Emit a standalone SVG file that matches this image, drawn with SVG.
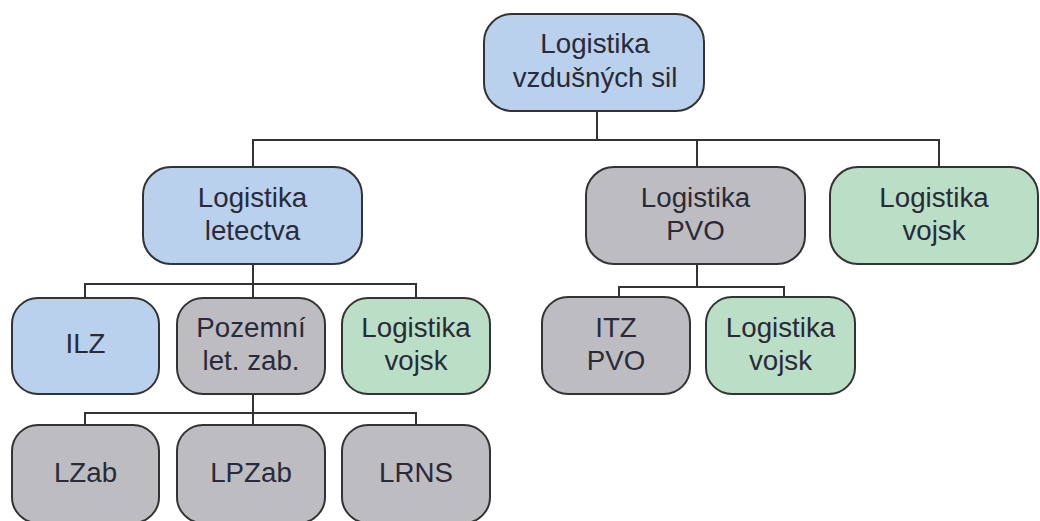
<svg xmlns="http://www.w3.org/2000/svg" width="1040" height="521" viewBox="0 0 1040 521">
<style>
.box{stroke:#333;stroke-width:2}
.blue{fill:#b9d1ed}
.grey{fill:#bdbdc1}
.green{fill:#badfc6}
text{font-family:"Liberation Sans",Arial,sans-serif;font-size:27.7px;fill:#2a2a38;text-anchor:middle}
.conn{stroke:#333;stroke-width:2;fill:none}
</style>
<rect width="1040" height="521" fill="#fff"/>
<g id="connectors" class="conn">
<path d="M597 111V140M253 167V140H939V167M697 140V167"/>
<path d="M253 264V284M85 298V284H416V298M253 284V298"/>
<path d="M253 394V413M85 425V413H416V425M253 413V425"/>
<path d="M697 264V287M619 297V287H784V297"/>
</g>
<g id="n-top"><rect class="box blue" x="484" y="14" width="220" height="97" rx="28"/><text x="595" y="53">Logistika</text><text x="595" y="87">vzdušných sil</text></g>
<g id="n-letectva"><rect class="box blue" x="143" y="167" width="219" height="97" rx="28"/><text x="252.5" y="207">Logistika</text><text x="252.5" y="240">letectva</text></g>
<g id="n-pvo"><rect class="box grey" x="586" y="167" width="219" height="97" rx="28"/><text x="695.5" y="207">Logistika</text><text x="695.5" y="240">PVO</text></g>
<g id="n-vojsk1"><rect class="box green" x="830" y="167" width="208" height="97" rx="28"/><text x="934" y="207">Logistika</text><text x="934" y="240">vojsk</text></g>
<g id="n-ilz"><rect class="box blue" x="12" y="298" width="147" height="96" rx="26"/><text x="85.5" y="353">ILZ</text></g>
<g id="n-pozemni"><rect class="box grey" x="177" y="298" width="148" height="96" rx="26"/><text x="251" y="337">Pozemní</text><text x="251" y="370">let. zab.</text></g>
<g id="n-vojsk2"><rect class="box green" x="342" y="298" width="148" height="96" rx="26"/><text x="416" y="337">Logistika</text><text x="416" y="370">vojsk</text></g>
<g id="n-itz"><rect class="box grey" x="542" y="297" width="148" height="97" rx="26"/><text x="616" y="337">ITZ</text><text x="616" y="370">PVO</text></g>
<g id="n-vojsk3"><rect class="box green" x="706" y="297" width="149" height="97" rx="26"/><text x="780.5" y="337">Logistika</text><text x="780.5" y="370">vojsk</text></g>
<g id="n-lzab"><rect class="box grey" x="12" y="425" width="147" height="98" rx="26"/><text x="85.5" y="482">LZab</text></g>
<g id="n-lpzab"><rect class="box grey" x="177" y="425" width="148" height="98" rx="26"/><text x="251" y="482">LPZab</text></g>
<g id="n-lrns"><rect class="box grey" x="342" y="425" width="148" height="98" rx="26"/><text x="416" y="482">LRNS</text></g>
</svg>
